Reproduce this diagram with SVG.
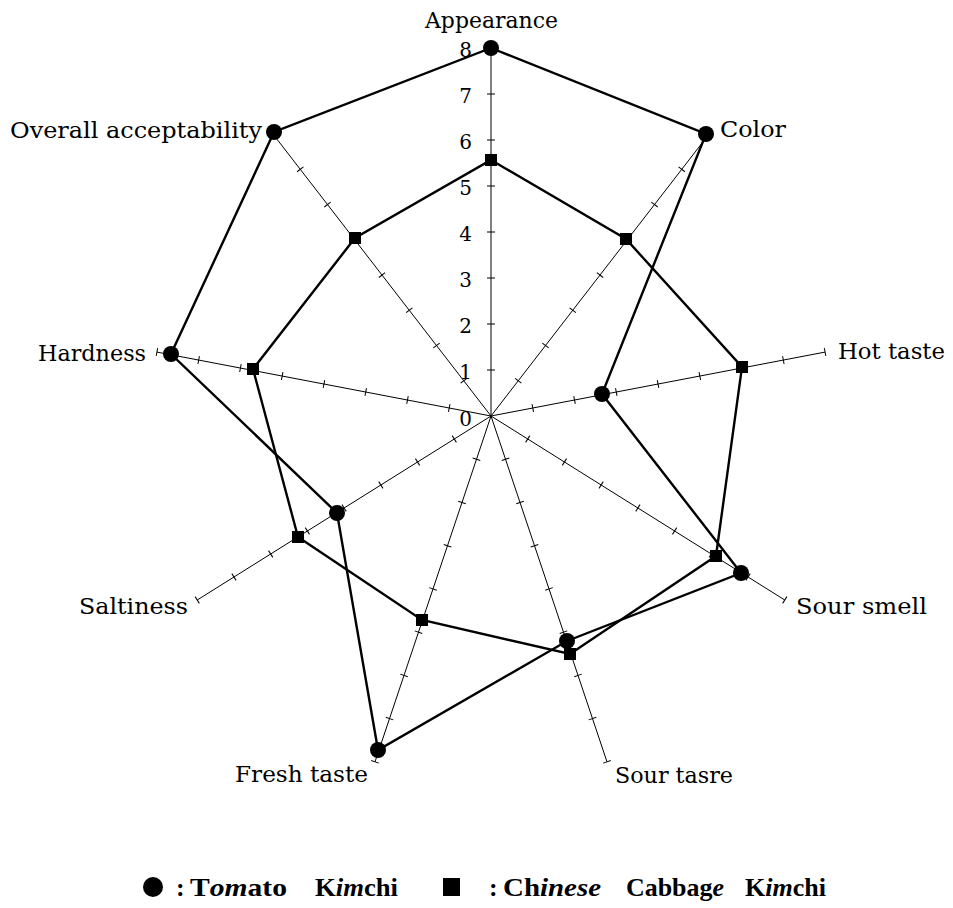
<svg xmlns="http://www.w3.org/2000/svg" width="953" height="908" viewBox="0 0 953 908">
<style>
  .axis { fill: none; stroke: #000; stroke-width: 1; marker-mid: url(#tick); marker-end: url(#tick); }
  .series { fill: none; stroke: #000; stroke-width: 2.4; stroke-linejoin: miter; }
  .lbl { font-family: "DejaVu Serif", "Liberation Serif", serif; font-size: 22px; fill: #000; }
  .num { font-family: "DejaVu Serif", "Liberation Serif", serif; font-size: 20px; fill: #000; text-anchor: end; }
  .leg { font-family: "Liberation Serif", "DejaVu Serif", serif; font-size: 26px; font-weight: bold; fill: #000; }
  .it { font-style: italic; }
</style>
<defs>
  <marker id="tick" markerUnits="userSpaceOnUse" markerWidth="10" markerHeight="10" refX="5" refY="5" orient="auto" overflow="visible">
    <line x1="5" y1="1" x2="5" y2="9" stroke="#000" stroke-width="1"/>
  </marker>
  <circle id="dot" r="8" fill="#000"/>
  <rect id="sq" x="-6" y="-6" width="12" height="12" fill="#000"/>
</defs>
<rect width="953" height="908" fill="#fff"/>

<g id="axes">
  <polyline class="axis" points="491,416 491,370 491,324 491,278 491,232 491,186 491,140 491,94 491,48"/>
  <polyline class="axis" points="491,416 518.25,380.76 545.5,345.52 572.75,310.28 600,275.04 627.25,239.8 654.5,204.56 681.75,169.32 709,134.08"/>
  <polyline class="axis" points="491,416 532.76,408.01 574.52,400.02 616.28,392.03 658.04,384.04 699.8,376.05 741.56,368.06 783.32,360.07 825.08,352.08"/>
  <polyline class="axis" points="491,416 527.72,439 564.44,462 601.16,485 637.88,508 674.6,531 711.32,554 748.04,577 784.76,600"/>
  <polyline class="axis" points="491,416 505.5,459.23 520,502.46 534.5,545.69 549,588.92 563.5,632.15 578,675.38 592.5,718.61 607,761.84"/>
  <polyline class="axis" points="491,416 476.5,459.23 462,502.46 447.5,545.69 433,588.92 418.5,632.15 404,675.38 389.5,718.61 375,761.84"/>
  <polyline class="axis" points="491,416 454.28,439 417.56,462 380.84,485 344.12,508 307.4,531 270.68,554 233.96,577 197.24,600"/>
  <polyline class="axis" points="491,416 449.24,408.01 407.48,400.02 365.72,392.03 323.96,384.04 282.2,376.05 240.44,368.06 198.68,360.07 156.92,352.08"/>
  <polyline class="axis" points="491,416 463.75,380.76 436.5,345.52 409.25,310.28 382,275.04 354.75,239.8 327.5,204.56 300.25,169.32 273,134.08"/>
</g>

<g id="scale">
  <text class="num" x="472" y="426">0</text>
  <text class="num" x="472" y="379">1</text>
  <text class="num" x="472" y="333">2</text>
  <text class="num" x="472" y="287">3</text>
  <text class="num" x="472" y="241">4</text>
  <text class="num" x="472" y="195">5</text>
  <text class="num" x="472" y="149">6</text>
  <text class="num" x="472" y="103">7</text>
  <text class="num" x="472" y="57">8</text>
</g>

<g id="connectors">
  <polygon id="tomato-line" class="series" points="491,48 706,134 602,394 741,573 567,641 378,750 337,513 171,354 274,132"/>
  <polygon id="cabbage-line" class="series" points="491,160 626,239 742,367 716,556 570,654 422,620 298,537 253,369 355,238"/>
</g>

<g id="tomato-points">
  <use href="#dot" x="491" y="48"/>
  <use href="#dot" x="706" y="134"/>
  <use href="#dot" x="602" y="394"/>
  <use href="#dot" x="741" y="573"/>
  <use href="#dot" x="567" y="641"/>
  <use href="#dot" x="378" y="750"/>
  <use href="#dot" x="337" y="513"/>
  <use href="#dot" x="171" y="354"/>
  <use href="#dot" x="274" y="132"/>
</g>
<g id="cabbage-points">
  <use href="#sq" x="491" y="160"/>
  <use href="#sq" x="626" y="239"/>
  <use href="#sq" x="742" y="367"/>
  <use href="#sq" x="716" y="556"/>
  <use href="#sq" x="570" y="654"/>
  <use href="#sq" x="422" y="620"/>
  <use href="#sq" x="298" y="537"/>
  <use href="#sq" x="253" y="369"/>
  <use href="#sq" x="355" y="238"/>
</g>

<g id="node-appearance"><text class="lbl" x="425" y="28" textLength="133" lengthAdjust="spacingAndGlyphs">Appearance</text></g>
<g id="node-color"><text class="lbl" x="720" y="137" textLength="66" lengthAdjust="spacingAndGlyphs">Color</text></g>
<g id="node-hot-taste"><text class="lbl" x="838" y="359" textLength="107" lengthAdjust="spacingAndGlyphs">Hot taste</text></g>
<g id="node-sour-smell"><text class="lbl" x="796" y="614" textLength="131" lengthAdjust="spacingAndGlyphs">Sour smell</text></g>
<g id="node-sour-tasre"><text class="lbl" x="615" y="783" textLength="118" lengthAdjust="spacingAndGlyphs">Sour tasre</text></g>
<g id="node-fresh-taste"><text class="lbl" x="235" y="782" textLength="133" lengthAdjust="spacingAndGlyphs">Fresh taste</text></g>
<g id="node-saltiness"><text class="lbl" x="79" y="614" textLength="109" lengthAdjust="spacingAndGlyphs">Saltiness</text></g>
<g id="node-hardness"><text class="lbl" x="38" y="361" textLength="108" lengthAdjust="spacingAndGlyphs">Hardness</text></g>
<g id="node-overall"><text class="lbl" x="10" y="138" textLength="252" lengthAdjust="spacingAndGlyphs">Overall acceptability</text></g>

<g id="legend">
  <circle cx="153" cy="887" r="10" fill="#000"/>
  <text class="leg" x="176" y="896">:</text>
  <text class="leg" x="190" y="896" textLength="97" lengthAdjust="spacingAndGlyphs">T<tspan class="it">om</tspan>ato</text>
  <text class="leg" x="315" y="896" textLength="83" lengthAdjust="spacingAndGlyphs">K<tspan class="it">im</tspan>chi</text>
  <rect x="443" y="878" width="17" height="18" fill="#000"/>
  <text class="leg" x="489" y="896">:</text>
  <text class="leg" x="503" y="896" textLength="98" lengthAdjust="spacingAndGlyphs">Ch<tspan class="it">inese</tspan></text>
  <text class="leg" x="626" y="896" textLength="98" lengthAdjust="spacingAndGlyphs">Cabbag<tspan class="it">e</tspan></text>
  <text class="leg" x="745" y="896" textLength="81" lengthAdjust="spacingAndGlyphs">K<tspan class="it">im</tspan>chi</text>
</g>
</svg>
